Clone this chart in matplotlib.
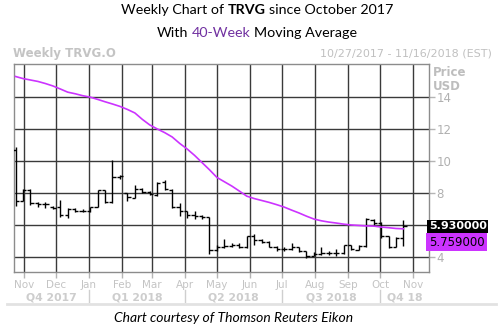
import matplotlib
matplotlib.use("Agg")
import matplotlib.pyplot as plt
import matplotlib.dates as mdates
import matplotlib.transforms as mtransforms
from matplotlib.lines import Line2D
import pandas as pd

# ---- weekly TRVG.O prices (USD) ----
week_dates = pd.date_range("2017-10-24", periods=53, freq="7D")
opens = [10.7, 7.5, 8.2, 7.35, 7.3, 7.15, 7.1, 6.6, 7.0, 6.9,
         6.85, 7.15, 8.2, 7.45, 9.0, 8.0, 7.7, 8.25, 8.05, 7.85,
         8.7, 8.2, 7.15, 6.85, 6.6, 6.55, 6.5, 4.45, 4.6, 4.7,
         4.75, 4.6, 5.3, 5.05, 4.95, 4.65, 4.5, 4.5, 4.6, 4.35,
         4.05, 4.2, 4.25, 4.25, 4.25, 4.75, 4.45, 4.7, 6.3, 6.15,
         5.3, 4.65, 5.2]
highs = [10.9, 8.25, 8.25, 7.45, 7.45, 7.2, 7.55, 7.05, 7.05, 7.0,
         7.15, 8.2, 8.2, 10.05, 9.1, 8.0, 8.5, 8.3, 8.1, 8.7,
         8.8, 8.25, 7.35, 6.9, 6.9, 6.65, 6.5, 4.75, 5.15, 4.85,
         4.9, 5.3, 5.45, 5.15, 5.0, 4.7, 4.6, 4.85, 4.6, 4.35,
         4.3, 4.65, 4.4, 4.5, 4.75, 4.75, 4.75, 6.45, 6.35, 6.2,
         5.3, 5.25, 6.3]
lows = [7.2, 7.5, 7.25, 7.15, 7.05, 7.0, 6.5, 6.45, 6.8, 6.8,
        6.8, 7.15, 7.4, 7.4, 8.9, 7.5, 7.7, 8.0, 7.85, 7.8,
        8.2, 7.05, 6.55, 6.45, 6.4, 6.4, 4.2, 4.4, 4.55, 4.6,
        4.55, 4.55, 4.75, 4.85, 4.6, 4.4, 4.4, 4.45, 4.3, 3.95,
        4.05, 4.1, 4.15, 4.05, 4.2, 4.45, 4.45, 4.65, 5.95, 5.2,
        4.55, 4.65, 4.7]
closes = [7.5, 8.2, 7.35, 7.3, 7.3, 7.05, 6.6, 7.0, 6.9, 6.85,
          7.1, 8.2, 7.45, 9.0, 9.05, 7.75, 8.25, 8.05, 7.95, 8.65,
          8.25, 7.15, 6.9, 6.6, 6.55, 6.5, 4.45, 4.6, 4.7, 4.75,
          4.65, 5.3, 5.05, 4.95, 4.65, 4.5, 4.5, 4.6, 4.35, 4.05,
          4.2, 4.25, 4.25, 4.25, 4.75, 4.5, 4.7, 6.4, 6.15, 5.3,
          4.65, 5.2, 5.93]
ma40 = [15.28, 15.15, 15.06, 14.97, 14.84, 14.69, 14.5, 14.3, 14.2, 14.08,
        13.99, 13.85, 13.7, 13.56, 13.41, 13.22, 13.0, 12.6, 12.25, 12.0,
        11.77, 11.5, 11.1, 10.75, 10.35, 9.9, 9.45, 8.97, 8.7, 8.43,
        8.12, 7.8, 7.65, 7.53, 7.41, 7.27, 7.12, 6.93, 6.75, 6.55,
        6.37, 6.26, 6.18, 6.12, 6.05, 6.0, 5.97, 5.94, 5.93, 5.87,
        5.83, 5.78, 5.759]

price_ticks = [4, 6, 8, 10, 12, 14]
price_labels = ["4", "", "8", "10", "12", "14"]   # 6 sits under the last-price tag
month_starts = pd.date_range("2017-11-01", "2018-11-01", freq="MS")
month_labels = [d.strftime("%b") for d in month_starts]
quarters = [("Q4 2017", "2017-10-22 14:00", "2018-01-01"),
            ("Q1 2018", "2018-01-01", "2018-04-01"),
            ("Q2 2018", "2018-04-01", "2018-07-01"),
            ("Q3 2018", "2018-07-01", "2018-10-01"),
            ("Q4 18", "2018-10-01", "2018-11-16")]
quarter_breaks = ["2018-01-01", "2018-04-01", "2018-07-01", "2018-10-01"]

W, H = 503, 328
fig = plt.figure(figsize=(W / 100, H / 100), dpi=100)
fig.patch.set_facecolor("white")


def fx(px):
    return px / W


def fy(py):
    return 1 - py / H


ax = fig.add_axes([fx(14), fy(272), fx(429) - fx(14), fy(64) - fy(272)])
ax.set_facecolor("white")

x = mdates.date2num(week_dates)
half = 3.0  # open/close tick length in days

ax.vlines(x, lows, highs, color="black", lw=1.0, zorder=3)
ax.hlines(opens, x - half, x, color="black", lw=1.0, zorder=3)
ax.hlines(closes, x, x + half, color="black", lw=1.0, zorder=3)
ax.plot(x, ma40, color="#cc33ff", lw=1.2, zorder=4)

ax.set_xlim(mdates.datestr2num("2017-10-22 14:00"), mdates.datestr2num("2018-11-16"))
ax.set_ylim(3.06, 16.06)

grid_col = "#3a3a3a"
for d in month_starts:
    ax.axvline(mdates.date2num(d), color=grid_col, lw=1.0, zorder=1)
for p in price_ticks:
    ax.axhline(p, color=grid_col, lw=1.0, zorder=1)

for s in ax.spines.values():
    s.set_color("#8c8c8c")
    s.set_linewidth(1.0)

label_grey = "#b4b4b4"
ax.yaxis.tick_right()
ax.set_yticks(price_ticks)
ax.set_yticklabels(price_labels)
ax.tick_params(axis="y", colors=label_grey, length=4, width=1, pad=1.5,
               labelsize=8.5, labelcolor="#b0b0b0")
ax.set_xticks(mdates.date2num(month_starts))
ax.set_xticklabels(month_labels)
ax.tick_params(axis="x", colors=label_grey, length=4, width=1, pad=2,
               labelsize=7.5, labelcolor="#c4c4c4")
for t in ax.get_xticklabels() + ax.get_yticklabels():
    t.set_family("DejaVu Sans")

# quarter labels and separators under the month labels
xa = mtransforms.blended_transform_factory(ax.transData, fig.transFigure)
for name, a, b in quarters:
    mid = (mdates.datestr2num(a) + mdates.datestr2num(b)) / 2
    ax.text(mid, fy(297), name, transform=xa, ha="center", va="center",
            fontsize=7.8, fontweight="bold", color="#cdcdcd",
            family="DejaVu Sans", clip_on=False)
for b in quarter_breaks:
    xb = mdates.datestr2num(b)
    ax.add_line(Line2D([xb, xb], [fy(290), fy(302)], transform=xa,
                       color="#cfcfcf", lw=1.0, clip_on=False))

fig.add_artist(Line2D([fx(7), fx(496)], [fy(304), fy(304)], color="#e2e2e2", lw=2.0))

# last-value markers at the right edge
ya = mtransforms.blended_transform_factory(ax.transAxes, ax.transData)
ax.text(1.0, closes[-1], "5.930000", transform=ya, ha="left", va="center",
        fontsize=8, fontweight="bold", color="white", family="DejaVu Sans",
        clip_on=False, zorder=6,
        bbox=dict(boxstyle="square,pad=0.14", fc="black", ec="none"))
ax.annotate("5.759000", xy=(1.0, closes[-1]), xycoords=ya,
            xytext=(0, -6.8), textcoords="offset points", ha="left", va="top",
            fontsize=8.5, color="black", family="DejaVu Sans",
            annotation_clip=False, zorder=6,
            bbox=dict(boxstyle="square,pad=0.22", fc="#cc33ff", ec="none"))

# header texts inside the chart frame area
fig.text(fx(13), fy(53), "Weekly TRVG.O", ha="left", va="center", fontsize=8.5,
         fontweight="bold", color="#c4c4c4", family="DejaVu Sans")
fig.text(fx(492), fy(53), "10/27/2017 - 11/16/2018 (EST)", ha="right", va="center",
         fontsize=8, color="#c0c0c0", family="DejaVu Sans")
fig.text(fx(433), fy(72), "Price", ha="left", va="center", fontsize=8.5,
         fontweight="bold", color="#bdbdbd", family="DejaVu Sans")
fig.text(fx(433), fy(87), "USD", ha="left", va="center", fontsize=8.5,
         fontweight="bold", color="#bdbdbd", family="DejaVu Sans")

renderer = fig.canvas.get_renderer()


def rich_line(center_px, y_px, parts, size, family):
    """Lay out text runs with different styles on one centred line."""
    probe = fig.text(0, 0, "a a", fontsize=size, family=family)
    probe2 = fig.text(0, 0, "aa", fontsize=size, family=family)
    space = probe.get_window_extent(renderer).width - probe2.get_window_extent(renderer).width
    probe.remove()
    probe2.remove()
    arts, widths = [], []
    for txt, kw in parts:
        t = fig.text(0, fy(y_px), txt, fontsize=size, family=family,
                     ha="left", va="center", **kw)
        arts.append(t)
        widths.append(t.get_window_extent(renderer).width)
    total = sum(widths) + space * (len(parts) - 1)
    xpos = center_px - total / 2
    for t, w in zip(arts, widths):
        t.set_x(fx(xpos))
        xpos += w + space


title_font = "Lato"
rich_line(257, 10, [("Weekly Chart of", {}), ("TRVG", {"fontweight": "bold"}),
                    ("since October 2017", {})], 10.3, title_font)
rich_line(257, 33, [("With", {}), ("40-Week", {"color": "#7030a0"}),
                    ("Moving Average", {})], 10.3, title_font)

fig.text(fx(233.5), fy(318), "Chart courtesy of Thomson Reuters Eikon", ha="center",
         va="center", fontsize=10, style="italic", color="black", family=title_font)

fig.savefig("out.png", dpi=100, facecolor="white")
